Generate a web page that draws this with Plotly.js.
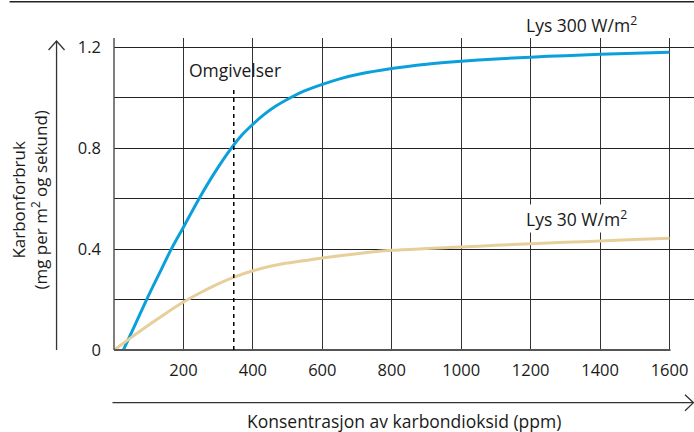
<!DOCTYPE html>
<html>
<head>
<meta charset="utf-8">
<script src="https://cdn.plot.ly/plotly-3.0.1.min.js"></script>
<style>html,body{margin:0;padding:0;background:#fff}#chart{width:694px;height:432px}</style>
</head>
<body>
<div id="chart"></div>
<script>
// Lys 300 W/m2
const x300 = [27, 60, 94, 130, 165, 200, 245, 290, 338, 369, 400, 430, 464, 508, 550, 600, 650, 704, 800, 900, 1000, 1100, 1200, 1300, 1400, 1500, 1600];
const y300 = [0, 0.098, 0.2, 0.302, 0.4, 0.487, 0.6, 0.703, 0.8, 0.853, 0.895, 0.931, 0.965, 1.0, 1.028, 1.053, 1.075, 1.093, 1.116, 1.133, 1.145, 1.154, 1.161, 1.167, 1.172, 1.176, 1.180];
// Lys 30 W/m2
const x30 = [0, 50, 100, 150, 200, 250, 300, 344, 400, 450, 500, 566, 600, 700, 800, 900, 1000, 1100, 1200, 1300, 1400, 1500, 1600];
const y30 = [0, 0.05, 0.099, 0.146, 0.19, 0.228, 0.262, 0.288, 0.314, 0.332, 0.345, 0.358, 0.365, 0.382, 0.395, 0.402, 0.408, 0.415, 0.421, 0.427, 0.432, 0.438, 0.443];
const yTickVals = [0, 0.4, 0.8, 1.2];
const yTickText = ['0', '0.4', '0.8', '1.2'];
const xTickVals = [200, 400, 600, 800, 1000, 1200, 1400, 1600];
const xTickText = ['200', '400', '600', '800', '1000', '1200', '1400', '1600'];
const ambientCO2 = 345;

const FONT = 'Open Sans, Noto Sans, sans-serif';
const TXT = '#1a1a1a';
const L = 113.5, T = 38, W = 694 - 113.5, H = 312;
const px = v => (v - L) / W;         // pixel x -> paper
const py = v => (T + H - v) / H;     // pixel y -> paper

const traces = [
  {x: x300, y: y300, mode: 'lines', line: {color: '#0ba0dc', width: 3, shape: 'spline', smoothing: 0.8}, hoverinfo: 'skip'},
  {x: x30, y: y30, mode: 'lines', line: {color: '#e7cf9c', width: 3, shape: 'spline', smoothing: 0.8}, hoverinfo: 'skip'}
];

const layout = {
  width: 694, height: 432,
  margin: {l: L, r: 0, t: T, b: 432 - T - H, pad: 0},
  paper_bgcolor: '#fff', plot_bgcolor: '#fff',
  showlegend: false,
  font: {family: FONT, size: 16.5, color: TXT},
  xaxis: {
    range: [0, 1670.5], tickvals: xTickVals, ticktext: xTickText,
    showgrid: true, gridcolor: '#333', gridwidth: 1,
    zeroline: false, showline: false, ticks: '', ticklabelstandoff: 8,
    tickfont: {family: FONT, size: 16.5, color: TXT}, fixedrange: true
  },
  yaxis: {
    range: [0, 1.2369], tickvals: yTickVals, ticktext: yTickText,
    showgrid: true, gridcolor: '#222', gridwidth: 1,
    minor: {dtick: 0.2, tick0: 0, showgrid: true, gridcolor: '#222', gridwidth: 1, ticks: ''},
    zeroline: false, showline: false, ticks: '', ticklabelstandoff: 12,
    tickfont: {family: FONT, size: 16.5, color: TXT}, fixedrange: true
  },
  shapes: [
    {type: 'line', xref: 'paper', yref: 'paper', x0: 0, x1: 0, y0: 0, y1: 1, line: {color: '#555', width: 1.5}},
    {type: 'line', xref: 'paper', yref: 'paper', x0: 0, x1: px(670.5), y0: 0, y1: 0, line: {color: '#555', width: 2}},
    {type: 'line', xref: 'x', yref: 'y', x0: ambientCO2, x1: ambientCO2, y0: 0, y1: 1.047, line: {color: '#000', width: 1.5, dash: '4px,4px'}},
    {type: 'line', xref: 'paper', yref: 'paper', x0: px(9), x1: px(694), y0: py(1.7), y1: py(1.7), line: {color: '#222', width: 1.5}},
    {type: 'line', xref: 'paper', yref: 'paper', x0: px(56), x1: px(56), y0: py(350), y1: py(41), line: {color: '#333', width: 1.3}},
    {type: 'path', xref: 'paper', yref: 'paper', path: `M ${px(48)} ${py(50)} L ${px(56)} ${py(41)} L ${px(64)} ${py(50)}`, line: {color: '#333', width: 1.3}},
    {type: 'line', xref: 'paper', yref: 'paper', x0: px(112), x1: px(693), y0: py(402.7), y1: py(402.7), line: {color: '#333', width: 1.3}},
    {type: 'path', xref: 'paper', yref: 'paper', path: `M ${px(685)} ${py(394.7)} L ${px(693.5)} ${py(402.7)} L ${px(685)} ${py(410.7)}`, line: {color: '#333', width: 1.3}}
  ],
  annotations: [
    {xref: 'paper', yref: 'paper', x: px(235), y: py(70), text: 'Omgivelser', showarrow: false, font: {family: FONT, size: 17.5, color: TXT}, xanchor: 'center', yanchor: 'middle'},
    {xref: 'paper', yref: 'paper', x: px(581), y: py(25), text: 'Lys 300 W/m<sup>2</sup>', showarrow: false, font: {family: FONT, size: 17.5, color: TXT}, xanchor: 'center', yanchor: 'middle'},
    {xref: 'paper', yref: 'paper', x: px(576), y: py(219), text: 'Lys 30 W/m<sup>2</sup>', showarrow: false, bgcolor: '#fff', font: {family: FONT, size: 17.5, color: TXT}, xanchor: 'center', yanchor: 'middle'},
    {xref: 'paper', yref: 'paper', x: px(29), y: py(200), text: 'Karbonforbruk<br>(mg per m<sup>2</sup> og sekund)', textangle: -90, showarrow: false, font: {family: FONT, size: 17, color: TXT}, xanchor: 'center', yanchor: 'middle'},
    {xref: 'paper', yref: 'paper', x: px(404), y: py(421), text: 'Konsentrasjon av karbondioksid (ppm)', showarrow: false, font: {family: FONT, size: 17.5, color: TXT}, xanchor: 'center', yanchor: 'middle'}
  ]
};

Plotly.newPlot('chart', traces, layout, {displayModeBar: false, staticPlot: true});
</script>
</body>
</html>
